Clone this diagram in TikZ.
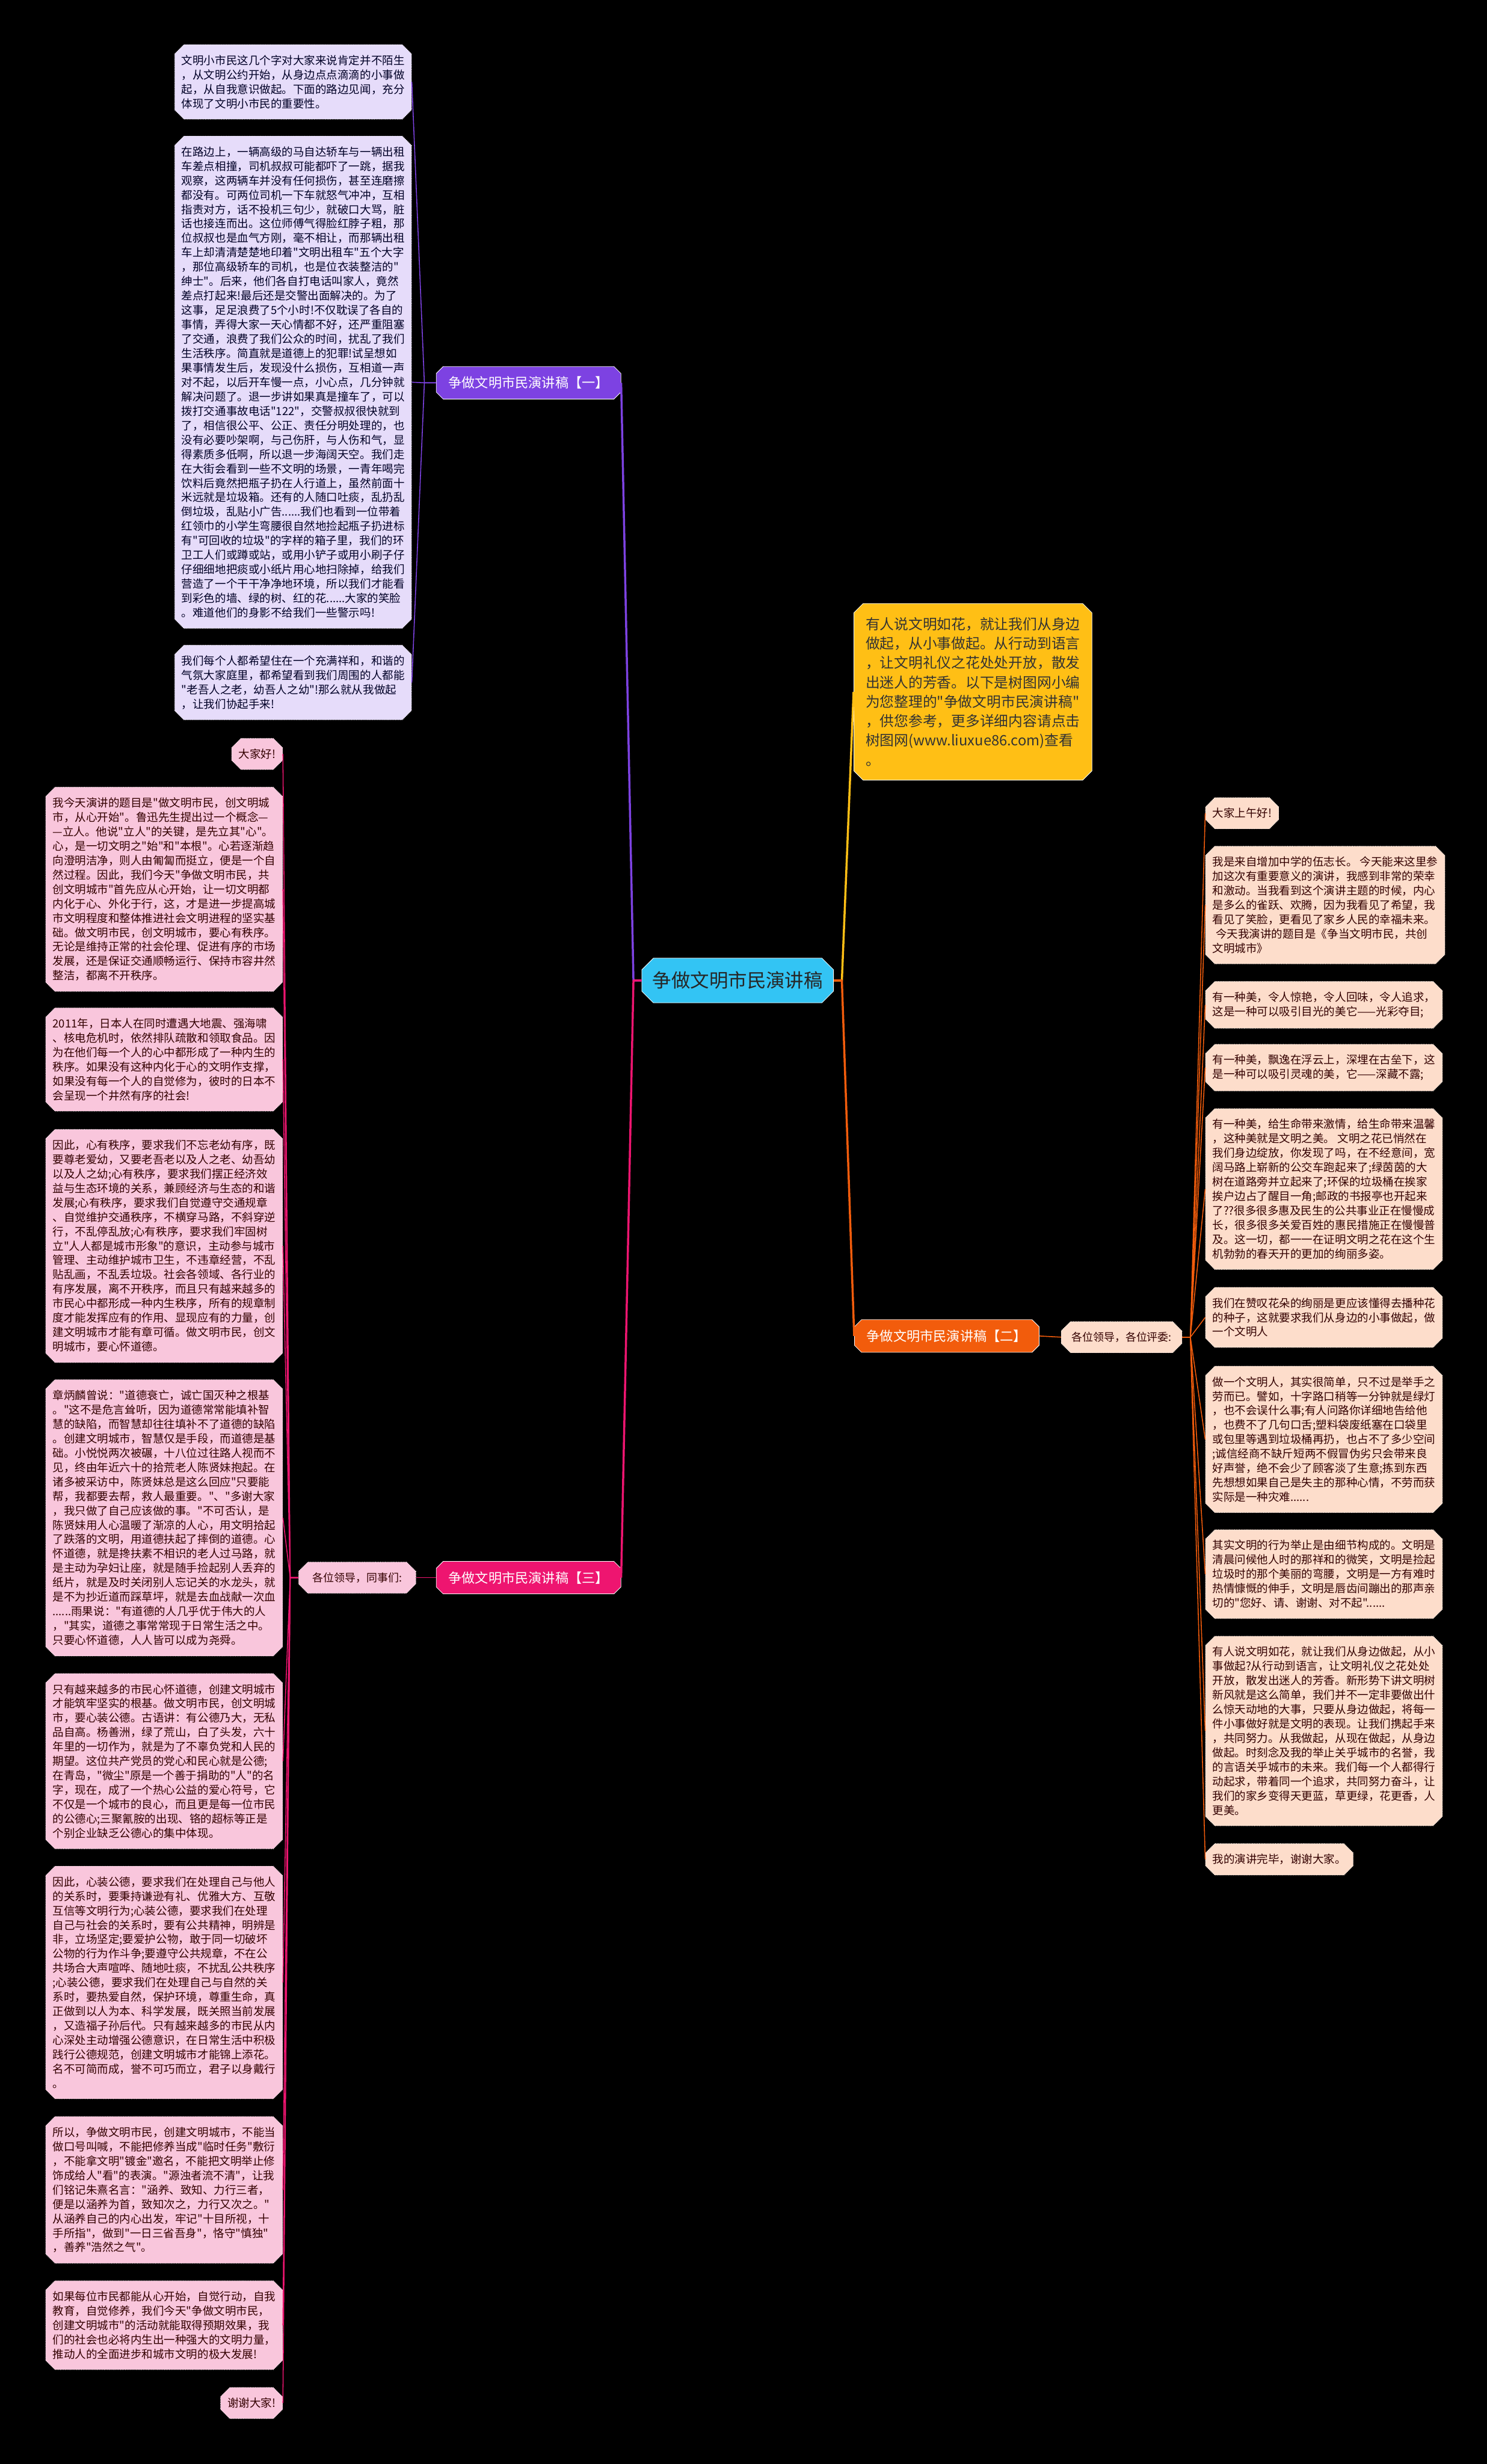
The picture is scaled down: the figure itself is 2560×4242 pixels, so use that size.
\documentclass[tikz,border=0pt]{standalone}
\usepackage{fontspec}
\setmainfont{Noto Sans CJK SC}[Ligatures=TeXOff]
\usetikzlibrary{shapes.misc}
\definecolor{ctrblue}{HTML}{33C4F4}
\definecolor{introamber}{HTML}{FFBF15}
\definecolor{onepurple}{HTML}{7D42E2}
\definecolor{onelight}{HTML}{E6DCFA}
\definecolor{twoorange}{HTML}{F25C0C}
\definecolor{twolight}{HTML}{FDDDCB}
\definecolor{threepink}{HTML}{EE1570}
\definecolor{threelight}{HTML}{F9C6DC}
\begin{document}
\begin{tikzpicture}[x=0.5pt,y=-0.5pt,
  leaf/.style={chamfered rectangle, chamfered rectangle xsep=4pt, chamfered rectangle ysep=4pt,
    inner xsep=2pt, inner ysep=5pt, align=left, densely dotted, line width=0.4pt,
    font=\fontsize{9.6pt}{12.4pt}\selectfont},
  oneleaf/.style={leaf, fill=onelight, draw=white, text=black!85!blue},
  twoleaf/.style={leaf, fill=twolight, draw=white, text=black!80!red},
  threeleaf/.style={leaf, fill=threelight, draw=white, text=black!80!red},
  branch/.style={chamfered rectangle, chamfered rectangle xsep=3pt, chamfered rectangle ysep=3pt,
    minimum width=159pt, minimum height=28pt, inner sep=2pt, text=white, draw=white, line width=0.4pt,
    font=\fontsize{11.5pt}{13pt}\selectfont},
  wire/.style={line width=0.8pt, line join=round}]
  \useasboundingbox (0,0) rectangle (2560,4242);
  \fill[black] (0,0) rectangle (2560,4242);
  % root and intro
  \node[chamfered rectangle, chamfered rectangle xsep=5pt, chamfered rectangle ysep=5pt, fill=ctrblue, draw=white,
    minimum width=165pt, minimum height=38.5pt, text=black!85, font=\fontsize{16.3pt}{18pt}\selectfont] (root) at (1270,1688) {争做文明市民演讲稿};
  \node[chamfered rectangle, chamfered rectangle xsep=4pt, chamfered rectangle ysep=4pt, fill=introamber, draw=white,
    minimum width=205pt, inner xsep=2pt, inner ysep=8pt, align=left, text=black!80,
    font=\fontsize{12.3pt}{16.7pt}\selectfont] (intro) at (1675,1191) {有人说文明如花，就让我们从身边\\做起，从小事做起。从行动到语言\\，让文明礼仪之花处处开放，散发\\出迷人的芳香。以下是树图网小编\\为您整理的"争做文明市民演讲稿"\\，供您参考，更多详细内容请点击\\树图网(www.liuxue86.com)查看\\。};
  % branches
  \node[branch, fill=onepurple] (one) at (910,659) {争做文明市民演讲稿【一】};
  \node[branch, fill=twoorange] (two) at (1630,2300) {争做文明市民演讲稿【二】};
  \node[branch, fill=threepink] (three) at (910,2716) {争做文明市民演讲稿【三】};
  \node[twoleaf, minimum width=104pt, minimum height=20.5pt, font=\fontsize{9.3pt}{11pt}\selectfont] (twosub) at (1931,2302) {各位领导，各位评委:};
  \node[threeleaf, minimum width=101pt, minimum height=21pt, font=\fontsize{9.3pt}{11pt}\selectfont] (threesub) at (615,2716) {各位领导，同事们:};
  % branch one leaves
  \node[oneleaf, anchor=east, minimum width=199pt] (oneA) at (709,141) {文明小市民这几个字对大家来说肯定并不陌生\\，从文明公约开始，从身边点点滴滴的小事做\\起，从自我意识做起。下面的路边见闻，充分\\体现了文明小市民的重要性。};
  \node[oneleaf, anchor=east, minimum width=199pt] (oneB) at (709,658) {在路边上，一辆高级的马自达轿车与一辆出租\\车差点相撞，司机叔叔可能都吓了一跳，据我\\观察，这两辆车并没有任何损伤，甚至连磨擦\\都没有。可两位司机一下车就怒气冲冲，互相\\指责对方，话不投机三句少，就破口大骂，脏\\话也接连而出。这位师傅气得脸红脖子粗，那\\位叔叔也是血气方刚，毫不相让，而那辆出租\\车上却清清楚楚地印着"文明出租车"五个大字\\，那位高级轿车的司机，也是位衣装整洁的"\\绅士"。后来，他们各自打电话叫家人，竟然\\差点打起来!最后还是交警出面解决的。为了\\这事，足足浪费了5个小时!不仅耽误了各自的\\事情，弄得大家一天心情都不好，还严重阻塞\\了交通，浪费了我们公众的时间，扰乱了我们\\生活秩序。简直就是道德上的犯罪!试呈想如\\果事情发生后，发现没什么损伤，互相道一声\\对不起，以后开车慢一点，小心点，几分钟就\\解决问题了。退一步讲如果真是撞车了，可以\\拨打交通事故电话"122"，交警叔叔很快就到\\了，相信很公平、公正、责任分明处理的，也\\没有必要吵架啊，与己伤肝，与人伤和气，显\\得素质多低啊，所以退一步海阔天空。我们走\\在大街会看到一些不文明的场景，一青年喝完\\饮料后竟然把瓶子扔在人行道上，虽然前面十\\米远就是垃圾箱。还有的人随口吐痰，乱扔乱\\倒垃圾，乱贴小广告......我们也看到一位带着\\红领巾的小学生弯腰很自然地捡起瓶子扔进标\\有"可回收的垃圾"的字样的箱子里，我们的环\\卫工人们或蹲或站，或用小铲子或用小刷子仔\\仔细细地把痰或小纸片用心地扫除掉，给我们\\营造了一个干干净净地环境，所以我们才能看\\到彩色的墙、绿的树、红的花......大家的笑脸\\。难道他们的身影不给我们一些警示吗!};
  \node[oneleaf, anchor=east, minimum width=199pt] (oneC) at (709,1175) {我们每个人都希望住在一个充满祥和，和谐的\\气氛大家庭里，都希望看到我们周围的人都能\\"老吾人之老，幼吾人之幼"!那么就从我做起\\，让我们协起手来!};
  % branch two leaves
  \node[twoleaf, anchor=west] (twoA) at (2075,1400) {大家上午好!};
  \node[twoleaf, anchor=west, minimum width=198pt] (twoB) at (2075,1558) {我是来自增加中学的伍志长。 今天能来这里参\\加这次有重要意义的演讲，我感到非常的荣幸\\和激动。当我看到这个演讲主题的时候，内心\\是多么的雀跃、欢腾，因为我看见了希望，我\\看见了笑脸，更看见了家乡人民的幸福未来。\\\hspace{0.3em}今天我演讲的题目是《争当文明市民，共创\\文明城市》};
  \node[twoleaf, anchor=west, minimum width=198pt] (twoC) at (2075,1730) {有一种美，令人惊艳，令人回味，令人追求，\\这是一种可以吸引目光的美它——光彩夺目;};
  \node[twoleaf, anchor=west, minimum width=198pt] (twoD) at (2075,1838) {有一种美，飘逸在浮云上，深埋在古垒下，这\\是一种可以吸引灵魂的美，它——深藏不露;};
  \node[twoleaf, anchor=west, minimum width=198pt] (twoE) at (2075,2047) {有一种美，给生命带来激情，给生命带来温馨\\，这种美就是文明之美。 文明之花已悄然在\\我们身边绽放，你发现了吗，在不经意间，宽\\阔马路上崭新的公交车跑起来了;绿茵茵的大\\树在道路旁并立起来了;环保的垃圾桶在挨家\\挨户边占了醒目一角;邮政的书报亭也开起来\\了??很多很多惠及民生的公共事业正在慢慢成\\长，很多很多关爱百姓的惠民措施正在慢慢普\\及。这一切，都一一在证明文明之花在这个生\\机勃勃的春天开的更加的绚丽多姿。};
  \node[twoleaf, anchor=west, minimum width=198pt] (twoF) at (2075,2268) {我们在赞叹花朵的绚丽是更应该懂得去播种花\\的种子，这就要求我们从身边的小事做起，做\\一个文明人};
  \node[twoleaf, anchor=west, minimum width=198pt] (twoG) at (2075,2478) {做一个文明人，其实很简单，只不过是举手之\\劳而已。譬如，十字路口稍等一分钟就是绿灯\\，也不会误什么事;有人问路你详细地告给他\\，也费不了几句口舌;塑料袋废纸塞在口袋里\\或包里等遇到垃圾桶再扔，也占不了多少空间\\;诚信经商不缺斤短两不假冒伪劣只会带来良\\好声誉，绝不会少了顾客淡了生意;拣到东西\\先想想如果自己是失主的那种心情，不劳而获\\实际是一种灾难......};
  \node[twoleaf, anchor=west, minimum width=198pt] (twoH) at (2075,2710) {其实文明的行为举止是由细节构成的。文明是\\清晨问候他人时的那祥和的微笑，文明是捡起\\垃圾时的那个美丽的弯腰，文明是一方有难时\\热情慷慨的伸手，文明是唇齿间蹦出的那声亲\\切的"您好、请、谢谢、对不起"......};
  \node[twoleaf, anchor=west, minimum width=198pt] (twoI) at (2075,2980) {有人说文明如花，就让我们从身边做起，从小\\事做起?从行动到语言，让文明礼仪之花处处\\开放，散发出迷人的芳香。新形势下讲文明树\\新风就是这么简单，我们并不一定非要做出什\\么惊天动地的大事，只要从身边做起，将每一\\件小事做好就是文明的表现。让我们携起手来\\，共同努力。从我做起，从现在做起，从身边\\做起。时刻念及我的举止关乎城市的名誉，我\\的言语关乎城市的未来。我们每一个人都得行\\动起求，带着同一个追求，共同努力奋斗，让\\我们的家乡变得天更蓝，草更绿，花更香，人\\更美。};
  \node[twoleaf, anchor=west] (twoJ) at (2075,3201) {我的演讲完毕，谢谢大家。};
  % branch three leaves
  \node[threeleaf, anchor=east] (threeA) at (487,1298) {大家好!};
  \node[threeleaf, anchor=east, minimum width=199pt] (threeB) at (487,1531) {我今天演讲的题目是"做文明市民，创文明城\\市，从心开始"。鲁迅先生提出过一个概念—\\—立人。他说"立人"的关键，是先立其"心"。\\心，是一切文明之"始"和"本根"。心若逐渐趋\\向澄明洁净，则人由匍匐而挺立，便是一个自\\然过程。因此，我们今天"争做文明市民，共\\创文明城市"首先应从心开始，让一切文明都\\内化于心、外化于行，这，才是进一步提高城\\市文明程度和整体推进社会文明进程的坚实基\\础。做文明市民，创文明城市，要心有秩序。\\无论是维持正常的社会伦理、促进有序的市场\\发展，还是保证交通顺畅运行、保持市容井然\\整洁，都离不开秩序。};
  \node[threeleaf, anchor=east, minimum width=199pt] (threeC) at (487,1824) {2011年，日本人在同时遭遇大地震、强海啸\\、核电危机时，依然排队疏散和领取食品。因\\为在他们每一个人的心中都形成了一种内生的\\秩序。如果没有这种内化于心的文明作支撑，\\如果没有每一个人的自觉修为，彼时的日本不\\会呈现一个井然有序的社会!};
  \node[threeleaf, anchor=east, minimum width=199pt] (threeD) at (487,2145) {因此，心有秩序，要求我们不忘老幼有序，既\\要尊老爱幼，又要老吾老以及人之老、幼吾幼\\以及人之幼;心有秩序，要求我们摆正经济效\\益与生态环境的关系，兼顾经济与生态的和谐\\发展;心有秩序，要求我们自觉遵守交通规章\\、自觉维护交通秩序，不横穿马路，不斜穿逆\\行，不乱停乱放;心有秩序，要求我们牢固树\\立"人人都是城市形象"的意识，主动参与城市\\管理、主动维护城市卫生，不违章经营，不乱\\贴乱画，不乱丢垃圾。社会各领域、各行业的\\有序发展，离不开秩序，而且只有越来越多的\\市民心中都形成一种内生秩序，所有的规章制\\度才能发挥应有的作用、显现应有的力量，创\\建文明城市才能有章可循。做文明市民，创文\\明城市，要心怀道德。};
  \node[threeleaf, anchor=east, minimum width=199pt] (threeE) at (487,2613) {章炳麟曾说："道德衰亡，诚亡国灭种之根基\\。"这不是危言耸听，因为道德常常能填补智\\慧的缺陷，而智慧却往往填补不了道德的缺陷\\。创建文明城市，智慧仅是手段，而道德是基\\础。小悦悦两次被碾，十八位过往路人视而不\\见，终由年近六十的拾荒老人陈贤妹抱起。在\\诸多被采访中，陈贤妹总是这么回应"只要能\\帮，我都要去帮，救人最重要。"、"多谢大家\\，我只做了自己应该做的事。"不可否认，是\\陈贤妹用人心温暖了渐凉的人心，用文明拾起\\了跌落的文明，用道德扶起了摔倒的道德。心\\怀道德，就是搀扶素不相识的老人过马路，就\\是主动为孕妇让座，就是随手捡起别人丢弃的\\纸片，就是及时关闭别人忘记关的水龙头，就\\是不为抄近道而踩草坪，就是去血战献一次血\\......雨果说："有道德的人几乎优于伟大的人\\，"其实，道德之事常常现于日常生活之中。\\只要心怀道德，人人皆可以成为尧舜。};
  \node[threeleaf, anchor=east, minimum width=199pt] (threeF) at (487,3032) {只有越来越多的市民心怀道德，创建文明城市\\才能筑牢坚实的根基。做文明市民，创文明城\\市，要心装公德。古语讲：有公德乃大，无私\\品自高。杨善洲，绿了荒山，白了头发，六十\\年里的一切作为，就是为了不辜负党和人民的\\期望。这位共产党员的党心和民心就是公德;\\在青岛，"微尘"原是一个善于捐助的"人"的名\\字，现在，成了一个热心公益的爱心符号，它\\不仅是一个城市的良心，而且更是每一位市民\\的公德心;三聚氰胺的出现、铬的超标等正是\\个别企业缺乏公德心的集中体现。};
  \node[threeleaf, anchor=east, minimum width=199pt] (threeG) at (487,3413) {因此，心装公德，要求我们在处理自己与他人\\的关系时，要秉持谦逊有礼、优雅大方、互敬\\互信等文明行为;心装公德，要求我们在处理\\自己与社会的关系时，要有公共精神，明辨是\\非，立场坚定;要爱护公物，敢于同一切破坏\\公物的行为作斗争;要遵守公共规章，不在公\\共场合大声喧哗、随地吐痰，不扰乱公共秩序\\;心装公德，要求我们在处理自己与自然的关\\系时，要热爱自然，保护环境，尊重生命，真\\正做到以人为本、科学发展，既关照当前发展\\，又造福子孙后代。只有越来越多的市民从内\\心深处主动增强公德意识，在日常生活中积极\\践行公德规范，创建文明城市才能锦上添花。\\名不可简而成，誉不可巧而立，君子以身戴行\\。};
  \node[threeleaf, anchor=east, minimum width=199pt] (threeH) at (487,3770) {所以，争做文明市民，创建文明城市，不能当\\做口号叫喊，不能把修养当成"临时任务"敷衍\\，不能拿文明"镀金"邀名，不能把文明举止修\\饰成给人"看"的表演。"源浊者流不清"，让我\\们铭记朱熹名言："涵养、致知、力行三者，\\便是以涵养为首，致知次之，力行又次之。"\\从涵养自己的内心出发，牢记"十目所视，十\\手所指"，做到"一日三省吾身"，恪守"慎独"\\，善养"浩然之气"。};
  \node[threeleaf, anchor=east, minimum width=199pt] (threeI) at (487,4003) {如果每位市民都能从心开始，自觉行动，自我\\教育，自觉修养，我们今天"争做文明市民，\\创建文明城市"的活动就能取得预期效果，我\\们的社会也必将内生出一种强大的文明力量，\\推动人的全面进步和城市文明的极大发展!};
  \node[threeleaf, anchor=east] (threeJ) at (487,4137) {谢谢大家!};
  % connectors from root
  \draw[wire, onepurple, line width=1.8pt] (root.west) -- ++(-14,0) -- (one.east);
  \draw[wire, threepink, line width=1.8pt] (root.west) -- ++(-14,0) -- (three.east);
  \draw[wire, introamber, line width=1.8pt] (root.east) -- ++(14,0) -- (intro.west);
  \draw[wire, twoorange, line width=1.8pt] (root.east) -- ++(14,0) -- (two.west);
  % branch one
  \draw[wire, onepurple] (one.west) -- ++(-20,0) -- (oneA.east);
  \draw[wire, onepurple] (one.west) -- ++(-20,0) -- (oneB.east);
  \draw[wire, onepurple] (one.west) -- ++(-20,0) -- (oneC.east);
  % branch two
  \draw[wire, twoorange] (two.east) -- (twosub.west);
  \draw[wire, twoorange] (twosub.east) -- ++(14,0) -- (twoA.west);
  \draw[wire, twoorange] (twosub.east) -- ++(14,0) -- (twoB.west);
  \draw[wire, twoorange] (twosub.east) -- ++(14,0) -- (twoC.west);
  \draw[wire, twoorange] (twosub.east) -- ++(14,0) -- (twoD.west);
  \draw[wire, twoorange] (twosub.east) -- ++(14,0) -- (twoE.west);
  \draw[wire, twoorange] (twosub.east) -- ++(14,0) -- (twoF.west);
  \draw[wire, twoorange] (twosub.east) -- ++(14,0) -- (twoG.west);
  \draw[wire, twoorange] (twosub.east) -- ++(14,0) -- (twoH.west);
  \draw[wire, twoorange] (twosub.east) -- ++(14,0) -- (twoI.west);
  \draw[wire, twoorange] (twosub.east) -- ++(14,0) -- (twoJ.west);
  % branch three
  \draw[wire, threepink] (three.west) -- (threesub.east);
  \draw[wire, threepink] (threesub.west) -- ++(-14,0) -- (threeA.east);
  \draw[wire, threepink] (threesub.west) -- ++(-14,0) -- (threeB.east);
  \draw[wire, threepink] (threesub.west) -- ++(-14,0) -- (threeC.east);
  \draw[wire, threepink] (threesub.west) -- ++(-14,0) -- (threeD.east);
  \draw[wire, threepink] (threesub.west) -- ++(-14,0) -- (threeE.east);
  \draw[wire, threepink] (threesub.west) -- ++(-14,0) -- (threeF.east);
  \draw[wire, threepink] (threesub.west) -- ++(-14,0) -- (threeG.east);
  \draw[wire, threepink] (threesub.west) -- ++(-14,0) -- (threeH.east);
  \draw[wire, threepink] (threesub.west) -- ++(-14,0) -- (threeI.east);
  \draw[wire, threepink] (threesub.west) -- ++(-14,0) -- (threeJ.east);
\end{tikzpicture}
\end{document}
